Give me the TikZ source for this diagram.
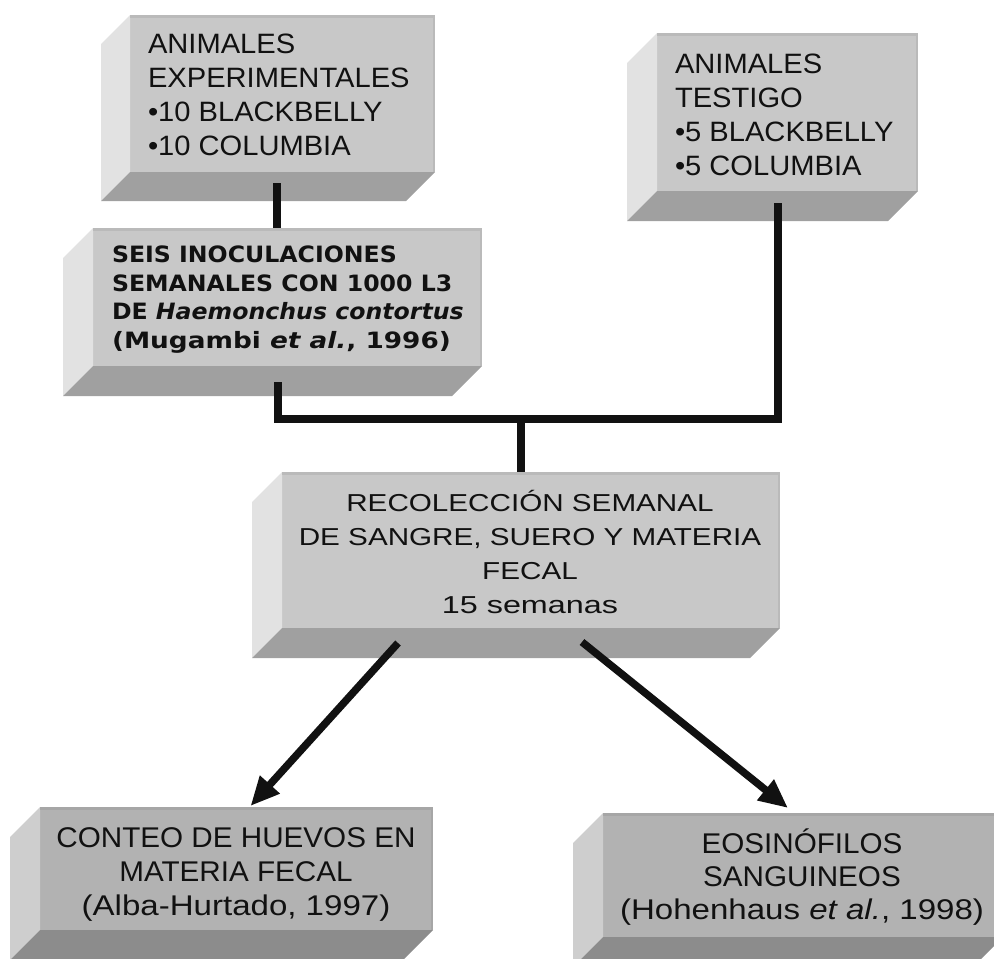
\documentclass[tikz,border=0pt]{standalone}
\usepackage{fontspec}
\setmainfont{Liberation Sans}
\newfontfamily\fA{Liberation Sans}[FakeStretch=1.04]
\newfontfamily\fAw{Liberation Sans}[FakeStretch=1.16]
\newfontfamily\fB{Liberation Sans}[FakeStretch=1.21]
\newfontfamily\fBw{Liberation Sans}[FakeStretch=1.32]
\newfontfamily\fC{DejaVu Sans}[FakeStretch=1.05]
\newfontfamily\fCw{DejaVu Sans}[FakeStretch=1.17]
\usetikzlibrary{arrows.meta,calc}

\definecolor{frontA}{RGB}{200,200,200}
\definecolor{edgeA}{RGB}{186,186,186}
\definecolor{leftA}{RGB}{226,226,226}
\definecolor{botA}{RGB}{160,160,160}
\definecolor{frontB}{RGB}{178,178,178}
\definecolor{edgeB}{RGB}{166,166,166}
\definecolor{leftB}{RGB}{206,206,206}
\definecolor{botB}{RGB}{140,140,140}
\definecolor{ink}{RGB}{17,17,17}

\newcommand\extrude[5]{%
  \fill[#2] (#1.north west) -- ++(-#4,#4) -- ([shift={(-#4,#4)}]#1.south west) -- (#1.south west) -- cycle;
  \fill[#3] (#1.south west) -- (#1.south east) -- ++(-#4,#4) -- ([shift={(-#4,#4)}]#1.south west) -- cycle;
  \draw[#5, line width=2.5pt] ([shift={(0,1.25)}]#1.north west) -- ([shift={(-1.25,1.25)}]#1.north east) -- ([shift={(-1.25,0)}]#1.south east);}

\begin{document}
\begin{tikzpicture}[x=1pt,y=-1pt,
  face/.style={draw=none, inner sep=0pt, outer sep=0pt, anchor=north west},
  faceA/.style={face, fill=frontA},
  faceB/.style={face, fill=frontB},
  txt/.style={inner sep=0pt, outer sep=0pt, text=ink},
  conn/.style={line width=7.5pt, draw=ink, line join=miter},
  arr/.style={line width=7.5pt, draw=ink, -{Triangle[length=29pt,width=25pt]}}]

\useasboundingbox (0,0) rectangle (994,959);

% front faces
\node[faceA, minimum width=305pt, minimum height=157pt] (b1) at (130,15) {};
\node[faceA, minimum width=261pt, minimum height=158pt] (b2) at (657,33) {};
\node[faceA, minimum width=389pt, minimum height=138pt] (b3) at (93,228) {};
\node[faceA, minimum width=498pt, minimum height=156pt] (b4) at (282,472) {};
\node[faceB, minimum width=393pt, minimum height=123pt] (b5) at (40,807) {};
\node[faceB, minimum width=400pt, minimum height=124pt] (b6) at (603,813) {};

\extrude{b1}{leftA}{botA}{29}{edgeA}
\extrude{b2}{leftA}{botA}{30}{edgeA}
\extrude{b3}{leftA}{botA}{30}{edgeA}
\extrude{b4}{leftA}{botA}{30}{edgeA}
\extrude{b5}{leftB}{botB}{30}{edgeB}
\extrude{b6}{leftB}{botB}{30}{edgeB}

% texts (anchor=base is the baseline of the last line)
\node[txt, anchor=base west, align=left, font=\fA\fontsize{28}{34}\selectfont] (t1) at (148,155)
  {ANIMALES\\EXPERIMENTALES\\•10 BLACKBELLY\\•10 COLUMBIA};
\node[txt, anchor=base west, align=left, font=\fA\fontsize{28}{34}\selectfont] (t2) at (675,175)
  {ANIMALES\\TESTIGO\\•5 BLACKBELLY\\•5 COLUMBIA};
\node[txt, anchor=base west, align=left, font=\fC\bfseries\fontsize{22.5}{28.5}\selectfont] (t3) at (112,348)
  {SEIS INOCULACIONES\\SEMANALES CON 1000 L3\\DE \textit{Haemonchus contortus}\\{\fCw\bfseries (Mugambi \textit{et al.}, 1996)}};
\node[txt, anchor=base, align=center, font=\fB\fontsize{24.5}{34}\selectfont] (t4) at (530,613)
  {RECOLECCIÓN SEMANAL\\DE SANGRE, SUERO Y MATERIA\\FECAL\\{\fBw 15 semanas}};
\node[txt, anchor=base, align=center, font=\fA\fontsize{28.5}{34}\selectfont] (t5) at (236,915)
  {CONTEO DE HUEVOS EN\\MATERIA FECAL\\{\fAw (Alba-Hurtado, 1997)}};
\node[txt, anchor=base, align=center, font=\fA\fontsize{28.5}{33}\selectfont] (t6) at (802,919)
  {EOSINÓFILOS\\SANGUINEOS\\{\fAw (Hohenhaus \textit{et al.}, 1998)}};

% connectors
\coordinate (jn) at (521,419);
\coordinate (c1) at ([shift={(-5.5,11)}]b1.south);
\draw[conn] (c1) -- (b3.north -| c1);
\draw[conn] ([shift={(-9.5,16)}]b3.south) |- (jn) -| ([shift={(-9.5,12)}]b2.south);
\draw[conn] (jn) -- (b4.north -| jn);
\draw[arr] ([shift={(-133,15)}]b4.south) -- ([shift={(14,-1)}]b5.north);
\draw[arr] ([shift={(51,14)}]b4.south) -- ([shift={(-15,-5)}]b6.north);
\end{tikzpicture}
\end{document}
